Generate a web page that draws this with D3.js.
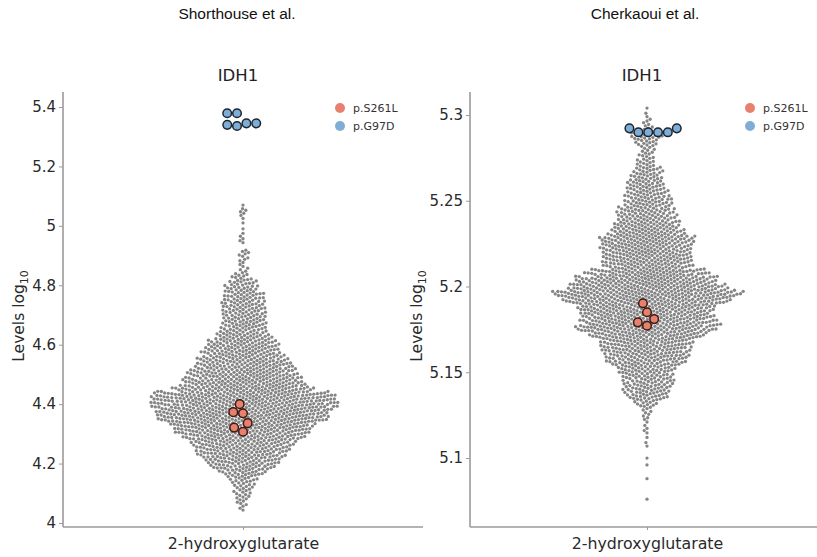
<!DOCTYPE html>
<html><head><meta charset="utf-8">
<script src="https://cdn.jsdelivr.net/npm/d3@7"></script>
<style>body{margin:0;background:#fff}svg{display:block}</style>
</head><body>
<svg id="chart" width="817" height="557"></svg>
<script>
// ---------------- data ----------------
const studies = ["Shorthouse et al.", "Cherkaoui et al."];
const gene = "IDH1";
const metabolite = "2-hydroxyglutarate";
const variants = ["p.S261L", "p.G97D"];

// Shorthouse: distribution of all samples as bins (centre value, count)
const leftBinStep = 0.02;
const leftBinCenters = [4.05,4.07,4.09,4.11,4.13,4.15,4.17,4.19,4.21,4.23,
  4.25,4.27,4.29,4.31,4.33,4.35,4.37,4.39,4.41,4.43,
  4.45,4.47,4.49,4.51,4.53,4.55,4.57,4.59,4.61,4.63,
  4.65,4.67,4.69,4.71,4.73,4.75,4.77,4.79,4.81,4.83,
  4.85,4.87,4.89,4.91,4.93,4.95,4.97,4.99,5.01,5.03,
  5.05,5.07];
const leftBinCounts = [3,5,7,8,10,13,21,30,35,41,
  44,48,57,64,68,82,83,86,87,86,
  68,58,54,50,45,42,37,35,32,26,
  21,21,20,20,20,19,18,15,13,8,
  4,3,4,5,0,3,2,1,1,2,
  4,1];
const leftS261L = [4.400, 4.373, 4.369, 4.336, 4.321, 4.307];
const leftG97D  = [5.379, 5.379, 5.345, 5.336, 5.340, 5.345];
const leftTicks = [4, 4.2, 4.4, 4.6, 4.8, 5, 5.2, 5.4];
const leftTickLabels = ["4", "4.2", "4.4", "4.6", "4.8", "5", "5.2", "5.4"];
const leftDomain = [3.9865, 5.4505];

// Cherkaoui
const rightBinStep = 0.004;
const rightBinCenters = [5.076,5.080,5.084,5.088,5.092,5.096,5.100,5.104,5.108,5.112,
  5.116,5.120,5.124,5.128,5.132,5.136,5.140,5.144,5.148,5.152,
  5.156,5.160,5.164,5.168,5.172,5.176,5.180,5.184,5.188,5.192,
  5.196,5.200,5.204,5.208,5.212,5.216,5.220,5.224,5.228,5.232,
  5.236,5.240,5.244,5.248,5.252,5.256,5.260,5.264,5.268,5.272,
  5.276,5.280,5.284,5.288,5.292,5.296,5.300,5.304];
const rightBinCounts = [1,0,0,1,0,1,1,0,2,1,
  3,2,4,5,12,22,25,26,27,31,
  41,45,48,50,64,77,73,73,75,91,
  104,86,77,67,49,49,49,50,52,41,
  36,31,30,26,24,22,20,17,15,10,
  8,7,12,17,6,4,2,1];
const rightS261L = [5.1902, 5.1850, 5.1810, 5.1791, 5.1771];
const rightG97D  = [5.2899, 5.2899, 5.2899, 5.2899, 5.2922, 5.2922];
const rightTicks = [5.1, 5.15, 5.2, 5.25, 5.3];
const rightTickLabels = ["5.1", "5.15", "5.2", "5.25", "5.3"];
const rightDomain = [5.0598, 5.3134];

const colors = {bg: "#858585", S261L: "#E8806E", G97D: "#7FADD5"};

// ---------------- helpers ----------------
function expandBins(centers, counts, step) {
  const out = [];
  centers.forEach((c, i) => {
    const n = counts[i];
    for (let k = 0; k < n; k++) out.push(c - step / 2 + (k + 0.5) * step / n);
  });
  return out;
}

function swarm(vals, y, cx, d) {
  const pts = vals.map((v, i) => ({v, i, y: y(v)})).sort((a, b) => b.y - a.y);
  const placed = [];
  for (const p of pts) {
    const iv = [];
    for (let j = placed.length - 1; j >= 0; j--) {
      const q = placed[j];
      const dy = q.y - p.y;
      if (dy >= d) break;
      const dx = Math.sqrt(d * d - dy * dy);
      iv.push([q.x - dx, q.x + dx]);
    }
    let x = cx;
    if (iv.length) {
      iv.sort((a, b) => a[0] - b[0]);
      const m = [];
      for (const s of iv) {
        if (m.length && s[0] < m[m.length - 1][1]) m[m.length - 1][1] = Math.max(m[m.length - 1][1], s[1]);
        else m.push([s[0], s[1]]);
      }
      for (const s of m) {
        if (cx > s[0] && cx < s[1]) { x = (cx - s[0] <= s[1] - cx) ? s[0] : s[1]; break; }
      }
    }
    p.x = x;
    placed.push(p);
  }
  return pts;
}

const svg = d3.select("#chart");
const FONT = "'DejaVu Sans', sans-serif";

function panel(cfg) {
  const g = svg.append("g");
  const y = d3.scaleLinear().domain(cfg.domain).range([527, 92]);
  const x = d3.scalePoint().domain([metabolite]).range([cfg.x0, cfg.x1]).padding(0.5);
  const cx = x(metabolite);

  // header
  svg.append("text").attr("x", cfg.headX).attr("y", 19).attr("text-anchor", "middle")
    .attr("font-family", "'Liberation Sans', Arial, sans-serif").attr("font-size", 15.5).attr("fill", "#111")
    .text(cfg.study);
  // title
  g.append("text").attr("x", cx - 5).attr("y", 81).attr("text-anchor", "middle")
    .attr("font-family", FONT).attr("font-size", 16.5).attr("fill", "#222").text(gene);

  // axes
  const ya = d3.axisLeft(y).tickValues(cfg.ticks).tickFormat((d, i) => cfg.tickLabels[i]).tickSize(4).tickPadding(3);
  const yg = g.append("g").attr("transform", `translate(${cfg.x0},0)`).call(ya);
  const xa = d3.axisBottom(x).tickSize(3).tickPadding(4);
  const xg = g.append("g").attr("transform", `translate(0,527)`).call(xa);
  [yg, xg].forEach(a => {
    a.select(".domain").attr("stroke", "#9a9a9a").attr("stroke-width", 1.6);
    a.selectAll(".tick line").attr("stroke", "#9a9a9a").attr("stroke-width", 1);
    a.selectAll(".tick text").attr("font-family", FONT).attr("fill", "#2a2a2a");
  });
  yg.selectAll(".tick text").attr("font-size", 15);
  xg.selectAll(".tick text").attr("font-size", 15.8).attr("dy", "0.95em");
  yg.select(".domain").attr("d", `M0,527V92`);
  xg.select(".domain").attr("d", `M${cfg.x0},0H${cfg.x1}`);

  // y label
  const yl = g.append("text").attr("transform", `translate(${cfg.ylabX},316) rotate(-90)`)
    .attr("text-anchor", "middle").attr("font-family", FONT).attr("font-size", 15.5).attr("fill", "#2a2a2a");
  yl.append("tspan").text("Levels log");
  yl.append("tspan").attr("font-size", 11).attr("dy", 4).text("10");

  // background swarm
  const vals = expandBins(cfg.centers, cfg.counts, cfg.step);
  const pts = swarm(vals, y, cx, 3.6);
  g.append("g").selectAll("circle").data(pts).join("circle")
    .attr("cx", d => d.x).attr("cy", d => d.y).attr("r", 1.65).attr("fill", colors.bg);

  // highlighted variants
  [[cfg.s261l, colors.S261L, "#3a1c16", cfg.offS], [cfg.g97d, colors.G97D, "#1c2630", cfg.offG]].forEach(([vs, col, edge, off]) => {
    const hp = swarm(vs, y, cx + off, 9.8);
    g.append("g").selectAll("circle").data(hp).join("circle")
      .attr("cx", d => d.x).attr("cy", d => d.y).attr("r", 4.3)
      .attr("fill", col).attr("stroke", edge).attr("stroke-width", 1.5);
  });

  // legend
  const lg = g.append("g");
  variants.forEach((v, i) => {
    const ly = 108 + i * 18;
    lg.append("circle").attr("cx", cfg.legX).attr("cy", ly).attr("r", 5).attr("fill", i === 0 ? colors.S261L : colors.G97D);
    lg.append("text").attr("x", cfg.legX + 13).attr("y", ly).attr("dy", "0.35em")
      .attr("font-family", FONT).attr("font-size", 11).attr("fill", "#333").text(v);
  });
}

panel({study: studies[0], headX: 237, x0: 63, x1: 423, domain: leftDomain, ticks: leftTicks, tickLabels: leftTickLabels,
  ylabX: 24, centers: leftBinCenters, counts: leftBinCounts, step: leftBinStep, s261l: leftS261L, g97d: leftG97D,
  offS: 0, offG: -6, legX: 340});
panel({study: studies[1], headX: 645, x0: 470, x1: 824, domain: rightDomain, ticks: rightTicks, tickLabels: rightTickLabels,
  ylabX: 422, centers: rightBinCenters, counts: rightBinCounts, step: rightBinStep, s261l: rightS261L, g97d: rightG97D,
  offS: 0, offG: 11, legX: 750});
</script>
</body></html>
